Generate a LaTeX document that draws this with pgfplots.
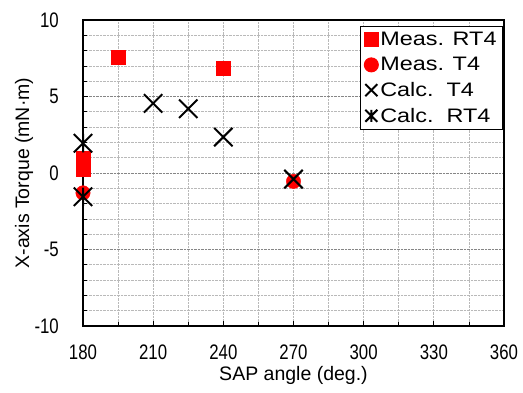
\documentclass[border=0pt]{standalone}
\usepackage{pgfplots}
\pgfplotsset{compat=1.18}
\usepackage{fontspec}
\setmainfont{Liberation Sans}
\newfontfamily\narrowfont[FakeStretch=0.8]{Liberation Sans}
\newfontfamily\widefont[FakeStretch=1.2]{Liberation Sans}
\pgfdeclareplotmark{xstar}{%
  \pgfpathmoveto{\pgfqpoint{-0.707\pgfplotmarksize}{-0.707\pgfplotmarksize}}%
  \pgfpathlineto{\pgfqpoint{0.707\pgfplotmarksize}{0.707\pgfplotmarksize}}%
  \pgfpathmoveto{\pgfqpoint{-0.707\pgfplotmarksize}{0.707\pgfplotmarksize}}%
  \pgfpathlineto{\pgfqpoint{0.707\pgfplotmarksize}{-0.707\pgfplotmarksize}}%
  \pgfpathmoveto{\pgfqpoint{0pt}{-0.707\pgfplotmarksize}}%
  \pgfpathlineto{\pgfqpoint{0pt}{0.707\pgfplotmarksize}}%
  \pgfusepathqstroke}
\begin{document}
\begin{tikzpicture}
\begin{axis}[
 at={(0,0)}, anchor=south west,
 scale only axis, width=421pt, height=306pt,
 xmin=180, xmax=360, ymin=-10, ymax=10,
 xtick={180,210,240,270,300,330,360},
 xticklabels={180,210,240,270,300,330,360},
 minor xtick={195,225,255,285,315,345},
 ytick={-10,-5,0,5,10},
 yticklabels={-10,-5,0,5,10},
 minor ytick={-9,-8,-7,-6,-4,-3,-2,-1,1,2,3,4,6,7,8,9},
 tick pos=left, tick align=inside,
 major tick length=5pt, minor tick length=4pt,
 tick style={black, line width=0.8pt},
 grid=both,
 major x grid style={densely dotted, gray!55, line width=0.7pt},
 major y grid style={densely dotted, gray!95, line width=0.8pt},
 minor grid style={densely dotted, gray!55, line width=0.7pt},
 axis line style={line width=1.3pt},
 clip=false,
 ticklabel style={font=\narrowfont\fontsize{21}{24}\selectfont, inner sep=0pt},
 yticklabel style={anchor=east, xshift=-24pt},
 xticklabel style={anchor=north, yshift=-19pt},
 xlabel={SAP angle (deg.)},
 ylabel={X-axis Torque (mN·m)},
 label style={font=\fontsize{19.5}{22}\selectfont, inner sep=0pt},
 xlabel style={at={(axis description cs:0.5,0)}, anchor=center, yshift=-49pt},
 ylabel style={at={(axis description cs:0,0.5)}, anchor=center, yshift=59pt},
 legend style={at={(rel axis cs:1,1)}, anchor=north east, xshift=-1pt, yshift=-6pt,
   draw=black, line width=1pt,
   font=\widefont\fontsize{19.5}{22}\selectfont, row sep=6pt, inner sep=4pt},
 legend cell align=left,
]
\addplot[only marks, mark=square*, mark size=7.2pt, draw=red, fill=red,
  legend image post style={mark size=7pt}]
 coordinates {(195,7.55)(240,6.85)(180,0.25)(180,0.55)(180,0.95)};
\addlegendentry{Meas. RT4}
\addplot[only marks, mark=*, mark size=7.2pt, draw=red, fill=red,
  legend image post style={mark size=7pt}]
 coordinates {(180,-1.3)(270,-0.55)};
\addlegendentry{Meas. T4}
\addplot[only marks, mark=x, mark size=13pt, black, line width=2pt,
  legend image post style={mark size=8.5pt}]
 coordinates {(210,4.55)(225,4.2)(240,2.35)(270,-0.4)};
\addlegendentry{Calc.\ \ T4}
\addplot[only marks, mark=xstar, mark size=13pt, black, line width=2pt,
  legend image post style={mark size=8.5pt}]
 coordinates {(180,1.95)(180,-1.55)};
\addlegendentry{Calc.\ \ RT4}
\end{axis}
\pgfresetboundingbox
\path ([shift={(-83pt,-66pt)}]current axis.south west) rectangle ([shift={(19pt,20pt)}]current axis.north east);
\end{tikzpicture}
\end{document}
